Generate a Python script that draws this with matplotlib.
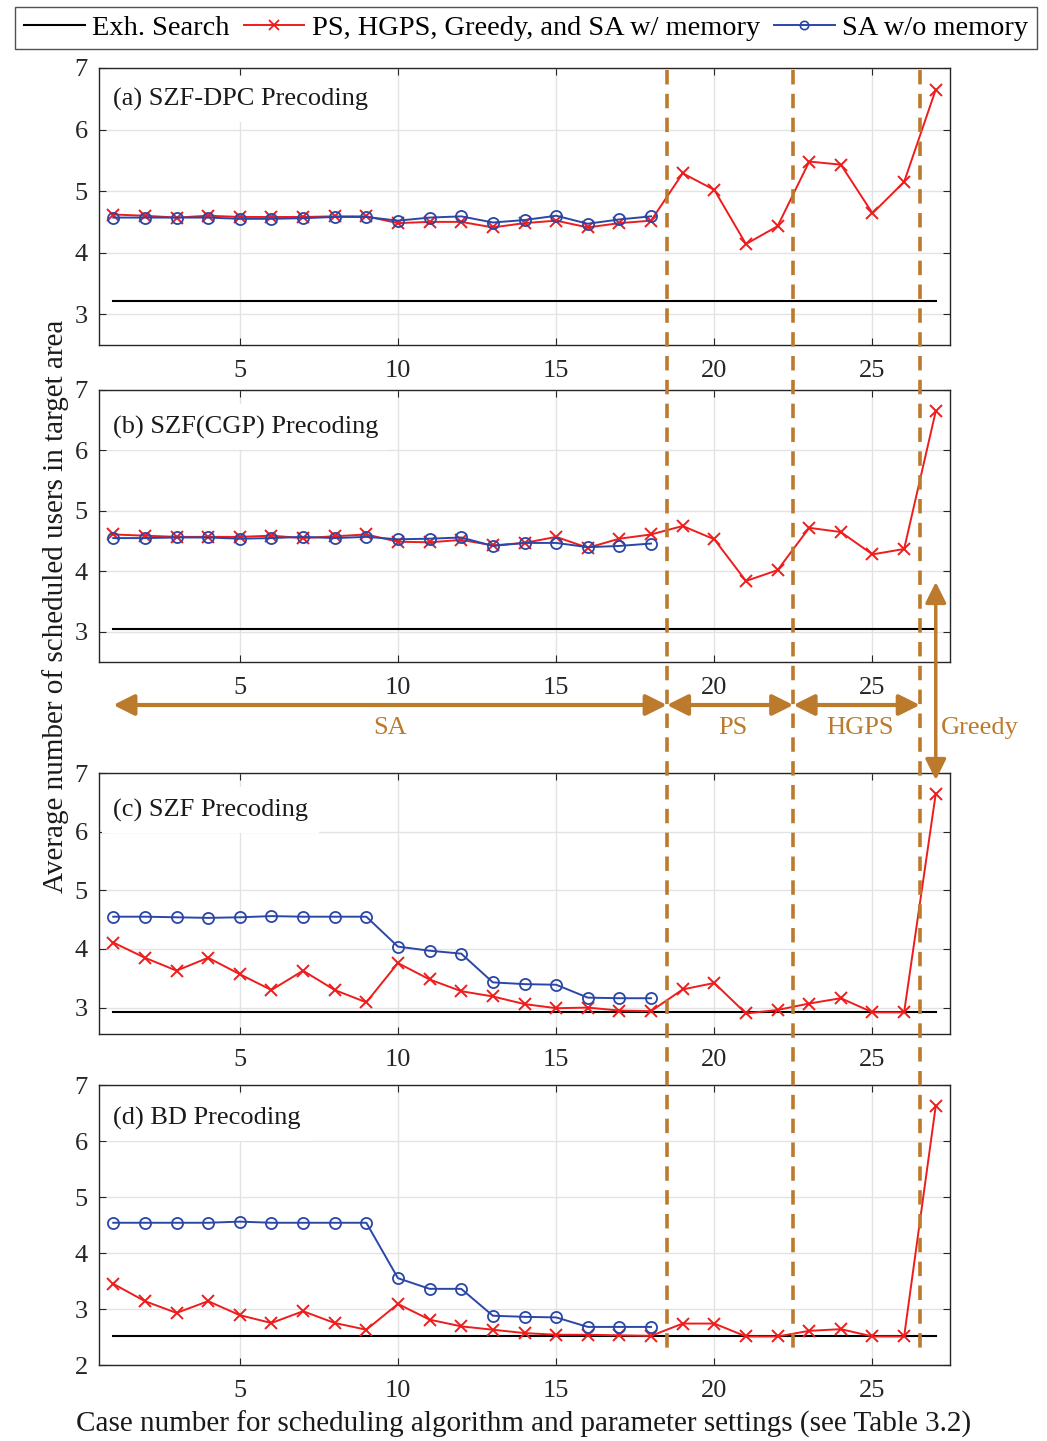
import numpy as np
import matplotlib
matplotlib.use("Agg")
import matplotlib.pyplot as plt
from matplotlib.lines import Line2D
from matplotlib.patches import FancyArrowPatch
from matplotlib.transforms import blended_transform_factory

plt.rcParams['font.family'] = ['Liberation Serif', 'DejaVu Serif']
plt.rcParams['mathtext.fontset'] = 'stix'

# Case numbers 1..27 (SA 1-18, PS 19-22, HGPS 23-26, Greedy 27)
casos = np.arange(1, 28)
casos_sa = np.arange(1, 19)

titulos = ['(a) SZF-DPC Precoding', '(b) SZF(CGP) Precoding',
           '(c) SZF Precoding', '(d) BD Precoding']

# Exhaustive search reference level per precoder
exaustiva = [3.21, 3.04, 2.93, 2.51]

# PS, HGPS, Greedy and SA with memory
com_memoria = [
    [4.62, 4.60, 4.57, 4.60, 4.58, 4.58, 4.58, 4.59, 4.59, 4.48, 4.50, 4.50, 4.41, 4.48,
     4.52, 4.41, 4.48, 4.52, 5.29, 5.02, 4.14, 4.43, 5.48, 5.43, 4.64, 5.15, 6.65],
    [4.61, 4.59, 4.57, 4.57, 4.57, 4.59, 4.55, 4.58, 4.61, 4.49, 4.48, 4.52, 4.43, 4.47,
     4.57, 4.39, 4.54, 4.61, 4.75, 4.53, 3.84, 4.02, 4.72, 4.65, 4.28, 4.37, 6.65],
    [4.11, 3.85, 3.63, 3.85, 3.57, 3.30, 3.63, 3.30, 3.09, 3.76, 3.48, 3.28, 3.19, 3.06,
     2.99, 3.00, 2.95, 2.94, 3.31, 3.42, 2.90, 2.96, 3.07, 3.16, 2.92, 2.92, 6.65],
    [3.45, 3.14, 2.93, 3.14, 2.89, 2.75, 2.96, 2.75, 2.63, 3.09, 2.81, 2.69, 2.63, 2.57,
     2.54, 2.54, 2.53, 2.52, 2.74, 2.74, 2.51, 2.51, 2.61, 2.64, 2.51, 2.51, 6.63],
]

# SA without memory (cases 1-18 only)
sem_memoria = [
    [4.57, 4.57, 4.57, 4.57, 4.55, 4.55, 4.56, 4.58, 4.58, 4.52, 4.57, 4.59, 4.49, 4.53,
     4.60, 4.47, 4.54, 4.59],
    [4.55, 4.55, 4.56, 4.56, 4.54, 4.55, 4.57, 4.55, 4.57, 4.53, 4.54, 4.56, 4.42, 4.47,
     4.47, 4.40, 4.42, 4.46],
    [4.55, 4.55, 4.54, 4.53, 4.54, 4.56, 4.55, 4.55, 4.55, 4.04, 3.97, 3.92, 3.43, 3.40,
     3.39, 3.17, 3.16, 3.16],
    [4.54, 4.54, 4.54, 4.54, 4.56, 4.54, 4.54, 4.54, 4.54, 3.55, 3.36, 3.36, 2.88, 2.86,
     2.85, 2.68, 2.68, 2.68],
]

limites_y = [(2.5, 7), (2.5, 7), (2.55, 7), (2, 7)]
ticks_y = [[3, 4, 5, 6, 7], [3, 4, 5, 6, 7], [3, 4, 5, 6, 7], [2, 3, 4, 5, 6, 7]]

# Region boundaries and labels
fronteiras = [18.5, 22.5, 26.5]
regioes = [('SA', 1, 18.5, 9.75), ('PS', 18.5, 22.5, 20.6), ('HGPS', 22.5, 26.5, 24.6)]

VERMELHO = '#EE1C1C'
AZUL = '#2A47A8'
MARROM = '#BC7A2C'
CINZA = '#262626'

L, H = 1047, 1441
fig = plt.figure(figsize=(L / 100, H / 100), dpi=100)

# Panel boxes in pixels: (top, bottom)
caixas = [(68, 345), (390, 662), (773, 1034), (1085, 1365)]
esq, dir_ = 99, 950

eixos = []
for i, (topo, base) in enumerate(caixas):
    ax = fig.add_axes([esq / L, 1 - base / H, (dir_ - esq) / L, (base - topo) / H])
    ax.plot([1, 27], [exaustiva[i]] * 2, color='black', lw=1.5, zorder=3)
    ax.plot(casos, com_memoria[i], color=VERMELHO, lw=1.4, marker='x', ms=8.5,
            mew=1.4, zorder=4)
    ax.plot(casos_sa, sem_memoria[i], color=AZUL, lw=1.4, marker='o', ms=8,
            mfc='none', mew=1.3, zorder=5)
    ax.set_xlim(0.55, 27.45)
    ax.set_ylim(*limites_y[i])
    ax.set_xticks([5, 10, 15, 20, 25])
    ax.set_yticks(ticks_y[i])
    ax.grid(True, color='#E3E3E3', lw=1)
    ax.set_axisbelow(True)
    ax.tick_params(direction='in', top=True, right=True, labelsize=19,
                   colors=CINZA, length=5)
    ax.tick_params(axis='x', pad=11)
    ax.tick_params(axis='y', pad=8)
    for s in ax.spines.values():
        s.set_color(CINZA)
        s.set_linewidth(1)
    ax.text(0.016, (base - (topo + [31, 37, 37, 33][i])) / (base - topo), titulos[i],
            transform=ax.transAxes, fontsize=19, color='#1A1A1A', va='center',
            ha='left', zorder=6,
            bbox=dict(facecolor='white', edgecolor='none', pad=8))
    eixos.append(ax)

# x in data units, y in figure fraction
tr = blended_transform_factory(eixos[-1].transData, fig.transFigure)

for xf in fronteiras:
    fig.add_artist(Line2D([xf, xf], [1 - 70 / H, 1 - 1355 / H], transform=tr,
                          color=MARROM, lw=2.6, ls=(0, (4, 2.6)), zorder=10))

y_seta = 1 - 705 / H
y_rotulo = 1 - 728 / H
for nome, x0, x1, xt in regioes:
    fig.add_artist(FancyArrowPatch((x0, y_seta), (x1, y_seta), transform=tr,
                                   arrowstyle='<|-|>,head_length=0.9,head_width=0.45',
                                   mutation_scale=14, lw=3, color=MARROM,
                                   shrinkA=0, shrinkB=0, zorder=11))
    fig.text(xt, y_rotulo, nome, transform=tr, color=MARROM, fontsize=19,
             ha='center', va='center')

fig.add_artist(FancyArrowPatch((27.0, 1 - 582 / H), (27.0, 1 - 780 / H), transform=tr,
                               arrowstyle='<|-|>,head_length=0.9,head_width=0.45',
                               mutation_scale=14, lw=2.5, color=MARROM,
                               shrinkA=0, shrinkB=0, zorder=11))
fig.text(27.15, y_rotulo, 'Greedy', transform=tr, color=MARROM, fontsize=19,
         ha='left', va='center')

fig.text(56 / L, 1 - 606 / H, 'Average number of scheduled users in target area',
         rotation=90, ha='center', va='center', fontsize=21, color='#1A1A1A')
fig.text(524 / L, 1 - 1424 / H,
         'Case number for scheduling algorithm and parameter settings (see Table 3.2)',
         ha='center', va='center', fontsize=21, color='#1A1A1A')

alcas = [
    Line2D([], [], color='black', lw=1.5),
    Line2D([], [], color=VERMELHO, lw=1.4, marker='x', ms=7, mew=1.3),
    Line2D([], [], color=AZUL, lw=1.4, marker='o', ms=6, mfc='none', mew=1.2),
]
leg = fig.legend(alcas, ['Exh. Search', 'PS, HGPS, Greedy, and SA w/ memory', 'SA w/o memory'],
                 loc='center', bbox_to_anchor=(526 / L, 1 - 28 / H), ncol=3, fontsize=20.4,
                 frameon=True, fancybox=False, edgecolor='#262626', handlelength=2.15,
                 handletextpad=0.25, columnspacing=0.5, borderpad=0.3)
leg.get_frame().set_linewidth(1)

fig.savefig('out.png', dpi=100)
